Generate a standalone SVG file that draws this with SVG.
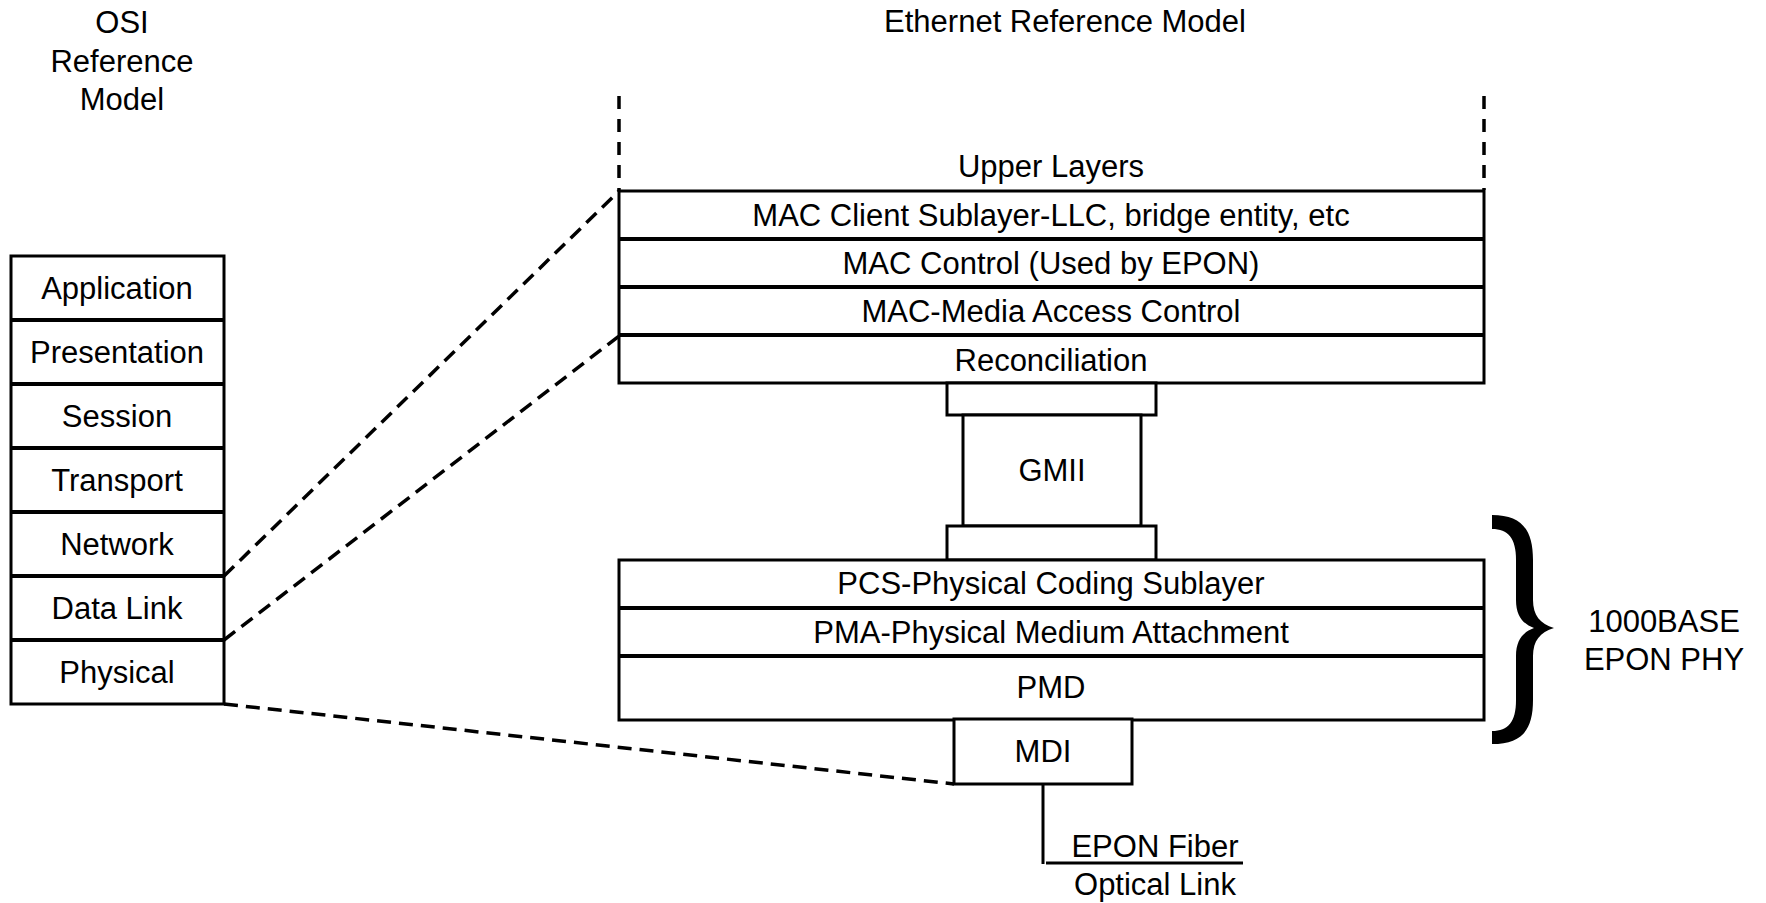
<svg xmlns="http://www.w3.org/2000/svg" width="1766" height="903" viewBox="0 0 1766 903">
<style>
text{font-family:"Liberation Sans",Arial,sans-serif;font-size:31px;fill:#000;text-anchor:middle}
.box{fill:#fff;stroke:#000;stroke-width:3}
.div{stroke:#000;stroke-width:4}
.dash{fill:none;stroke:#000;stroke-width:3.5;stroke-dasharray:14 8}
.vdash{fill:none;stroke:#000;stroke-width:3.5;stroke-dasharray:13 10}
.ln{fill:none;stroke:#000;stroke-width:3}
</style>
<rect width="1766" height="903" fill="#fff"/>

<g id="titles">
<text x="122" y="33">OSI</text>
<text x="122" y="72">Reference</text>
<text x="122" y="110">Model</text>
<text x="1065" y="32">Ethernet Reference Model</text>
</g>

<g id="osi-stack">
<rect class="box" x="11" y="256" width="213" height="448"/>
<line class="div" x1="11" y1="320" x2="224" y2="320"/>
<line class="div" x1="11" y1="384" x2="224" y2="384"/>
<line class="div" x1="11" y1="448" x2="224" y2="448"/>
<line class="div" x1="11" y1="512" x2="224" y2="512"/>
<line class="div" x1="11" y1="576" x2="224" y2="576"/>
<line class="div" x1="11" y1="640" x2="224" y2="640"/>
<g id="osi-application"><text x="117" y="299">Application</text></g>
<g id="osi-presentation"><text x="117" y="363">Presentation</text></g>
<g id="osi-session"><text x="117" y="427">Session</text></g>
<g id="osi-transport"><text x="117" y="491">Transport</text></g>
<g id="osi-network"><text x="117" y="555">Network</text></g>
<g id="osi-datalink"><text x="117" y="619">Data Link</text></g>
<g id="osi-physical"><text x="117" y="683">Physical</text></g>
</g>

<g id="upper-layers">
<line class="vdash" x1="619" y1="96" x2="619" y2="190"/>
<line class="vdash" x1="1484" y1="96" x2="1484" y2="190"/>
<text x="1051" y="177">Upper Layers</text>
</g>

<g id="eth-upper-stack">
<rect class="box" x="619" y="191" width="865" height="192"/>
<line class="div" x1="619" y1="239" x2="1484" y2="239"/>
<line class="div" x1="619" y1="287" x2="1484" y2="287"/>
<line class="div" x1="619" y1="335" x2="1484" y2="335"/>
<g id="mac-client"><text x="1051" y="226">MAC Client Sublayer-LLC, bridge entity, etc</text></g>
<g id="mac-control"><text x="1051" y="274">MAC Control (Used by EPON)</text></g>
<g id="mac"><text x="1051" y="322">MAC-Media Access Control</text></g>
<g id="reconciliation"><text x="1051" y="371">Reconciliation</text></g>
</g>

<g id="gmii">
<rect class="box" x="947" y="383" width="209" height="32"/>
<rect class="box" x="963" y="415" width="178" height="111"/>
<rect class="box" x="947" y="526" width="209" height="34"/>
<text x="1052" y="481">GMII</text>
</g>

<g id="eth-phy-stack">
<rect class="box" x="619" y="560" width="865" height="160"/>
<line class="div" x1="619" y1="608" x2="1484" y2="608"/>
<line class="div" x1="619" y1="656" x2="1484" y2="656"/>
<g id="pcs"><text x="1051" y="594">PCS-Physical Coding Sublayer</text></g>
<g id="pma"><text x="1051" y="643">PMA-Physical Medium Attachment</text></g>
<g id="pmd"><text x="1051" y="698">PMD</text></g>
</g>

<g id="mdi">
<rect class="box" x="954" y="719" width="178" height="65"/>
<text x="1043" y="762">MDI</text>
</g>

<g id="fiber">
<text x="1155" y="857">EPON Fiber</text>
<text x="1155" y="895">Optical Link</text>
</g>

<g id="phy-brace">
<path d="M1492,515 C1522,515 1533,530 1533,560 L1533,600 C1533,615 1540,624 1554,628 C1540,632 1533,641 1533,656 L1533,700 C1533,730 1522,744 1492,744 L1492,731 C1508,731 1516,722 1516,700 L1516,656 C1516,640 1523,632 1534,628 C1523,624 1516,616 1516,600 L1516,560 C1516,538 1508,529 1492,529 Z" fill="#000"/>
<text x="1664" y="632">1000BASE</text>
<text x="1664" y="670">EPON PHY</text>
</g>

<g id="connectors">
<line class="dash" x1="224" y1="576" x2="619" y2="191"/>
<line class="dash" x1="224" y1="640" x2="619" y2="336"/>
<line class="dash" x1="224" y1="704" x2="954" y2="784"/>
<line class="ln" x1="1043" y1="784" x2="1043" y2="864"/>
<line class="ln" x1="1046" y1="863" x2="1243" y2="863"/>
</g>
</svg>
